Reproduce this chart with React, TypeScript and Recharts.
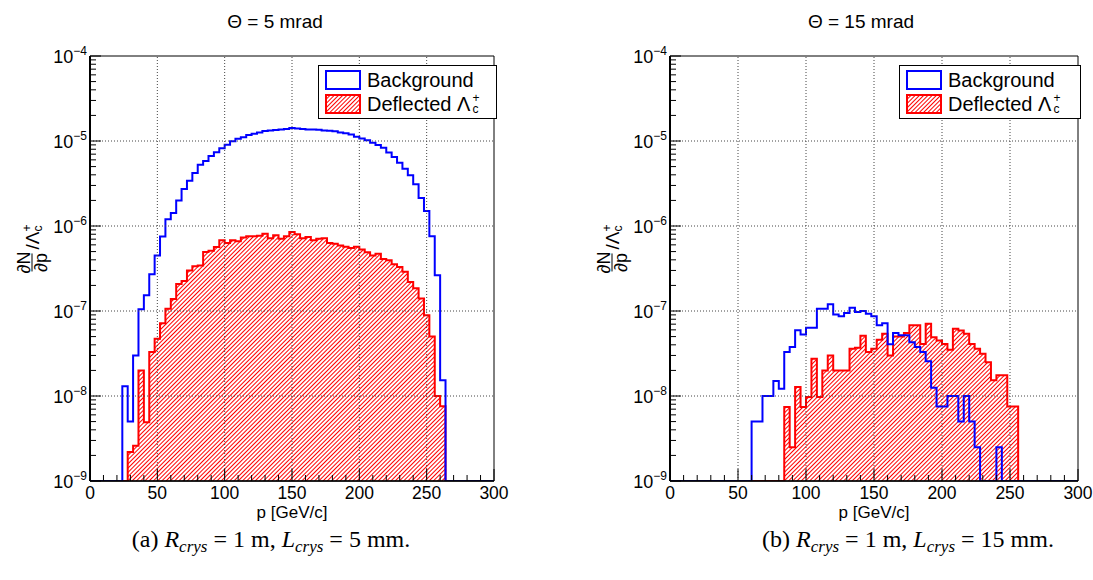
import React from "react";
import { Area, ComposedChart, ReferenceArea, ReferenceLine, XAxis, YAxis } from "recharts";

// histogram binning: 4 GeV/c bins over 0..300
const BIN = 4;
const P_MAX = 300;
const Y_MIN = 1e-9;
const Y_MAX = 1e-4;

const X_TICKS = [0, 10, 20, 30, 40, 50, 60, 70, 80, 90, 100, 110, 120, 130, 140, 150, 160, 170, 180, 190, 200, 210, 220, 230, 240, 250, 260, 270, 280, 290, 300];
const X_GRID = [50, 100, 150, 200, 250];
const Y_DECADES = [1e-9, 1e-8, 1e-7, 1e-6, 1e-5, 1e-4];
const Y_GRID = [1e-8, 1e-7, 1e-6, 1e-5];
const Y_MINOR = [2, 3, 4, 5, 6, 7, 8, 9];

// Θ = 5 mrad
const BG5_START = 24;
const BG5 = [
  1.3e-8, 5e-9, 3.0e-8, 1.05e-7, 1.53e-7, 2.7e-7, 4.5e-7, 7.55e-7, 1.2e-6, 1.42e-6,
  2.0e-6, 2.72e-6, 3.41e-6, 4.2e-6, 5.27e-6, 5.82e-6, 6.66e-6, 7.36e-6, 8.2e-6, 9.06e-6,
  9.9e-6, 1.06e-5, 1.11e-5, 1.18e-5, 1.22e-5, 1.26e-5, 1.31e-5, 1.33e-5, 1.35e-5, 1.37e-5,
  1.38e-5, 1.42e-5, 1.4e-5, 1.38e-5, 1.37e-5, 1.37e-5, 1.36e-5, 1.33e-5, 1.32e-5, 1.3e-5,
  1.26e-5, 1.23e-5, 1.19e-5, 1.12e-5, 1.07e-5, 1.02e-5, 9.55e-6, 8.97e-6, 8.35e-6, 7.3e-6,
  6.5e-6, 5.56e-6, 4.72e-6, 3.95e-6, 3.1e-6, 2.14e-6, 1.5e-6, 7.6e-7, 2.63e-7, 1.53e-8,
];
const SIG5_START = 28;
const SIG5 = [
  2.2e-9, 2.6e-9, 2.0e-8, 4.9e-9, 3.3e-8, 4.7e-8, 7.2e-8, 1.06e-7, 1.38e-7, 2.08e-7,
  2.25e-7, 3.0e-7, 3.35e-7, 3.44e-7, 4.94e-7, 5.1e-7, 5.67e-7, 6.78e-7, 6.3e-7, 6.78e-7,
  6.6e-7, 7.3e-7, 7.56e-7, 7.56e-7, 7.7e-7, 8.1e-7, 7.2e-7, 7.8e-7, 7.1e-7, 7.6e-7,
  8.5e-7, 8.0e-7, 7.2e-7, 7.4e-7, 6.8e-7, 7.1e-7, 7.2e-7, 6.3e-7, 6.2e-7, 5.9e-7,
  5.7e-7, 5.5e-7, 5.7e-7, 5.3e-7, 4.9e-7, 4.5e-7, 4.7e-7, 4.1e-7, 3.95e-7, 3.55e-7,
  3.3e-7, 2.9e-7, 2.2e-7, 1.85e-7, 1.4e-7, 8.9e-8, 5.0e-8, 1.0e-8, 7.6e-9,
];

// Θ = 15 mrad
const BG15_START = 60;
const BG15 = [
  5e-9, 5e-9, 1e-8, 1e-8, 1.5e-8, 1.22e-8, 3.3e-8, 3.77e-8, 5.93e-8, 5.3e-8,
  6.37e-8, 6.37e-8, 1.06e-7, 1.06e-7, 1.2e-7, 9.1e-8, 8.65e-8, 9.46e-8, 1.09e-7, 9.73e-8,
  1.0e-7, 9.3e-8, 8.65e-8, 6.78e-8, 7.2e-8, 4.06e-8, 5.5e-8, 5.2e-8, 5.2e-8, 4.3e-8,
  3.77e-8, 3.3e-8, 2.56e-8, 1.25e-8, 7.55e-9, 7.55e-9, 1e-8, 1e-8, 5e-9, 1e-8,
  5e-9, 2.5e-9, 0, 0, 0, 2.5e-9,
];
const SIG15_START = 84;
const SIG15 = [
  7.4e-9, 2.5e-9, 1.28e-8, 7.4e-9, 9.7e-9, 2.75e-8, 9.7e-9, 2.0e-8, 3.0e-8, 2.0e-8,
  2.0e-8, 2.0e-8, 3.6e-8, 3.7e-8, 5.1e-8, 3.3e-8, 3.6e-8, 4.6e-8, 5.4e-8, 3.0e-8,
  5.0e-8, 5.0e-8, 5.5e-8, 6.8e-8, 6.8e-8, 4.1e-8, 7.1e-8, 4.9e-8, 4.5e-8, 4.1e-8,
  3.5e-8, 6.2e-8, 5.9e-8, 5.4e-8, 4.1e-8, 3.6e-8, 3.15e-8, 2.5e-8, 1.53e-8, 1.75e-8,
  1.75e-8, 7.55e-9, 7.55e-9,
];

const BLUE = "#0000ff";
const RED = "#ff0000";
const SANS = '"Liberation Sans", Arial, Helvetica, sans-serif';
const SERIF = '"Liberation Serif", "Times New Roman", serif';

const Y_TICKS = Y_DECADES.flatMap((d, i) => (i < Y_DECADES.length - 1 ? [d, ...Y_MINOR.map((m) => m * d)] : [d]));

// empty bins sit on the frame bottom, like ROOT draws them
function histRows(bgStart: number, bg: number[], sigStart: number, sig: number[]) {
  const rows: { p: number; bg: number; sig: number }[] = [];
  for (let p = 0; p <= P_MAX; p += BIN) {
    const bi = (p - bgStart) / BIN;
    const si = (p - sigStart) / BIN;
    const b = bi >= 0 && bi < bg.length ? bg[bi] : 0;
    const s = si >= 0 && si < sig.length ? sig[si] : 0;
    rows.push({ p, bg: Math.max(b, Y_MIN), sig: Math.max(s, Y_MIN) });
  }
  return rows;
}

function XTick({ x, y, payload }: any) {
  const v = payload.value;
  const major = v % 50 === 0;
  return (
    <g>
      <line x1={x} x2={x} y1={y} y2={y - (major ? 12 : 6)} stroke="#000" strokeWidth={1} />
      {major && (
        <text x={x} y={y + 18} textAnchor="middle" fontSize={17.5} fontFamily={SANS} fill="#000">
          {v}
        </text>
      )}
    </g>
  );
}

function YTick({ x, y, payload }: any) {
  const lg = Math.log10(payload.value);
  const major = Math.abs(lg - Math.round(lg)) < 1e-6;
  return (
    <g>
      <line x1={x} x2={x + (major ? 11 : 6)} y1={y} y2={y} stroke="#000" strokeWidth={1} />
      {major && (
        <text x={x - 3} y={y + 7} textAnchor="end" fontSize={18} fontFamily={SANS} fill="#000">
          <tspan>10</tspan>
          <tspan dy={-8} fontSize={12}>{`\u2212${-Math.round(lg)}`}</tspan>
        </text>
      )}
    </g>
  );
}

function HatchDef({ id }: { id: string }) {
  return (
    <pattern id={id} patternUnits="userSpaceOnUse" width={3} height={3} patternTransform="rotate(45)">
      <line x1={1.5} y1={0} x2={1.5} y2={3} stroke={RED} strokeWidth={1} />
    </pattern>
  );
}

function Panel({ id, right, bgStart, bg, sigStart, sig }: { id: string; right: number; bgStart: number; bg: number[]; sigStart: number; sig: number[] }) {
  const rows = histRows(bgStart, bg, sigStart, sig);
  return (
    <ComposedChart width={513} height={580} data={rows} margin={{ top: 56, right, bottom: 69, left: 30 }}>
      <defs>
        <HatchDef id={id} />
      </defs>
      <XAxis
        dataKey="p"
        type="number"
        domain={[0, P_MAX]}
        ticks={X_TICKS}
        interval={0}
        allowDataOverflow
        height={30}
        tickSize={0}
        tickMargin={0}
        tickLine={false}
        axisLine={{ stroke: "#000", strokeWidth: 1.5 }}
        tick={(p: any) => <XTick {...p} />}
      />
      <YAxis
        type="number"
        scale="log"
        domain={[Y_MIN, Y_MAX]}
        ticks={Y_TICKS}
        interval={0}
        allowDataOverflow
        width={60}
        tickSize={0}
        tickMargin={0}
        tickLine={false}
        axisLine={{ stroke: "#000", strokeWidth: 2 }}
        tick={(p: any) => <YTick {...p} />}
      />
      <Area
        type="stepAfter"
        dataKey="sig"
        stroke={RED}
        strokeWidth={2}
        fill={`url(#${id})`}
        fillOpacity={1}
        baseValue={Y_MIN}
        dot={false}
        activeDot={false}
        isAnimationActive={false}
      />
      {X_GRID.map((v) => (
        <ReferenceLine key={`x${v}`} x={v} stroke="#444" strokeDasharray="1 2" />
      ))}
      {Y_GRID.map((v) => (
        <ReferenceLine key={`y${v}`} y={v} stroke="#444" strokeDasharray="1 2" />
      ))}
      <Area
        type="stepAfter"
        dataKey="bg"
        stroke={BLUE}
        strokeWidth={2}
        fill="none"
        baseValue={Y_MIN}
        dot={false}
        activeDot={false}
        isAnimationActive={false}
      />
      <ReferenceArea x1={0} x2={P_MAX} y1={Y_MIN} y2={Y_MAX} fill="none" stroke="#000" strokeWidth={1} />
    </ComposedChart>
  );
}

function LegendBox({ left, top, width, id }: { left: number; top: number; width: number; id: string }) {
  const row: React.CSSProperties = { position: "absolute", left: 0, height: 22, display: "flex", alignItems: "center" };
  return (
    <div style={{ position: "absolute", left, top, width, height: 52, border: "1px solid #000", background: "#fff", fontSize: 20 }}>
      <div style={{ ...row, top: 3 }}>
        <svg width={36} height={20} style={{ marginLeft: 6 }}>
          <rect x={1} y={1} width={34} height={18} fill="#fff" stroke={BLUE} strokeWidth={2} />
        </svg>
        <span style={{ marginLeft: 6 }}>Background</span>
      </div>
      <div style={{ ...row, top: 27 }}>
        <svg width={36} height={20} style={{ marginLeft: 6 }}>
          <defs>
            <HatchDef id={id} />
          </defs>
          <rect x={1} y={1} width={34} height={18} fill={`url(#${id})`} stroke={RED} strokeWidth={2} />
        </svg>
        <span style={{ marginLeft: 6 }}>Deflected&nbsp;Λ</span>
        <span style={{ display: "inline-flex", flexDirection: "column", fontSize: 12, lineHeight: "11px", marginLeft: 2 }}>
          <span>+</span>
          <span>c</span>
        </span>
      </div>
    </div>
  );
}

function YLabel({ cx, cy }: { cx: number; cy: number }) {
  return (
    <div
      style={{
        position: "absolute",
        left: cx,
        top: cy,
        transform: "translate(-50%, -50%) rotate(-90deg)",
        display: "flex",
        alignItems: "center",
        fontSize: 18,
        whiteSpace: "nowrap",
      }}
    >
      <span style={{ display: "inline-flex", flexDirection: "column", alignItems: "center", lineHeight: "16px" }}>
        <span>∂N</span>
        <span style={{ borderTop: "1px solid #000" }}>∂p</span>
      </span>
      <span style={{ marginLeft: 2, fontSize: 19 }}>/Λ</span>
      <span style={{ display: "inline-flex", flexDirection: "column", fontSize: 12, lineHeight: "11px" }}>
        <span>+</span>
        <span>c</span>
      </span>
    </div>
  );
}

function Centered({ cx, cy, children, style }: { cx: number; cy: number; children: React.ReactNode; style?: React.CSSProperties }) {
  return (
    <div style={{ position: "absolute", left: cx, top: cy, transform: "translate(-50%, -50%)", whiteSpace: "nowrap", ...style }}>
      {children}
    </div>
  );
}

function Caption({ cx, tag, len }: { cx: number; tag: string; len: string }) {
  const sub: React.CSSProperties = { fontSize: 17, verticalAlign: "-5px" };
  return (
    <Centered cx={cx} cy={541} style={{ fontFamily: SERIF, fontSize: 24 }}>
      ({tag}) <i>R</i>
      <i style={sub}>crys</i> = 1 m, <i>L</i>
      <i style={sub}>crys</i> = {len} mm.
    </Centered>
  );
}

export default function App() {
  return (
    <div style={{ position: "absolute", left: 0, top: 0, width: 1093, height: 580, background: "#fff", fontFamily: SANS, color: "#000" }}>
      <div style={{ position: "absolute", left: 0, top: 0 }}>
        <Panel id="hatch5" right={19} bgStart={BG5_START} bg={BG5} sigStart={SIG5_START} sig={SIG5} />
      </div>
      <div style={{ position: "absolute", left: 580, top: 0 }}>
        <Panel id="hatch15" right={15} bgStart={BG15_START} bg={BG15} sigStart={SIG15_START} sig={SIG15} />
      </div>

      <Centered cx={275} cy={22} style={{ fontSize: 19 }}>Θ = 5 mrad</Centered>
      <Centered cx={861} cy={22} style={{ fontSize: 19 }}>Θ = 15 mrad</Centered>

      <LegendBox left={318} top={65} width={177} id="legHatch5" />
      <LegendBox left={899} top={65} width={180} id="legHatch15" />

      <YLabel cx={32} cy={249} />
      <YLabel cx={612} cy={249} />

      <Centered cx={292} cy={513} style={{ fontSize: 17 }}>p [GeV/c]</Centered>
      <Centered cx={874} cy={513} style={{ fontSize: 17 }}>p [GeV/c]</Centered>

      <Caption cx={271} tag="a" len="5" />
      <Caption cx={908} tag="b" len="15" />
    </div>
  );
}
